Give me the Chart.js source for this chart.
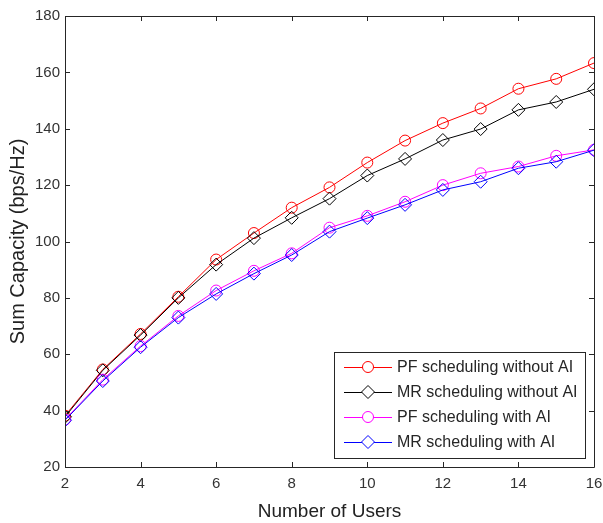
<!DOCTYPE html>
<html>
<head>
<meta charset="utf-8">
<script src="https://cdn.jsdelivr.net/npm/chart.js@4.4.0/dist/chart.umd.min.js"></script>
<style>
  html, body { margin: 0; padding: 0; background: #fff; }
  #wrap { width: 603px; height: 523px; }
</style>
</head>
<body>
<div id="wrap"><canvas id="capChart" width="603" height="523"></canvas></div>
<script>
// values
var users = [2, 3, 4, 5, 6, 7, 8, 9, 10, 11, 12, 13, 14, 15, 16];
var pfNoAI = [38.2, 54.6, 67.2, 80.4, 93.6, 103.0, 112.0, 119.2, 128.0, 135.8, 142.0, 147.2, 154.2, 157.7, 163.3];
var mrNoAI = [37.8, 54.3, 66.8, 80.0, 91.8, 101.2, 108.4, 115.2, 123.4, 129.3, 136.0, 139.9, 146.7, 149.5, 154.0];
var pfAI = [36.8, 51.0, 62.9, 73.6, 82.6, 89.6, 95.8, 104.9, 109.1, 114.1, 120.0, 124.2, 126.6, 130.4, 132.5];
var mrAI = [36.6, 50.5, 62.5, 73.0, 81.4, 88.6, 95.2, 103.5, 108.3, 113.0, 118.3, 121.2, 126.0, 128.3, 132.4];
var seriesNames = ["PF scheduling without AI", "MR scheduling without AI", "PF scheduling with AI", "MR scheduling with AI"];
var xTicks = [2, 4, 6, 8, 10, 12, 14, 16];
var yTicks = [20, 40, 60, 80, 100, 120, 140, 160, 180];

function pts(vals) {
    return users.map(function (u, i) { return { x: u, y: vals[i] }; });
}

function makeSet(label, vals, color, style, order) {
    return {
        label: label,
        data: pts(vals),
        borderColor: color,
        backgroundColor: 'rgba(0,0,0,0)',
        borderWidth: 1,
        pointStyle: style,
        pointRadius: style === 'circle' ? 5.5 : 6.5,
        pointBorderWidth: 1,
        pointBorderColor: color,
        pointBackgroundColor: 'rgba(0,0,0,0)',
        tension: 0,
        order: order
    };
}

// MATLAB-like box with inward ticks on all four sides
var framePlugin = {
    id: 'frame',
    afterDatasetsDraw: function (chart) {
        var ctx = chart.ctx, a = chart.chartArea;
        var xs = chart.scales.x, ys = chart.scales.y;
        ctx.save();
        ctx.strokeStyle = '#262626';
        ctx.lineWidth = 1;
        ctx.beginPath();
        ctx.rect(Math.round(a.left) + 0.5, Math.round(a.top) + 0.5,
                 Math.round(a.right - a.left), Math.round(a.bottom - a.top));
        ctx.stroke();
        var tl = 5;
        ctx.beginPath();
        xTicks.forEach(function (t) {
            var px = Math.round(xs.getPixelForValue(t)) + 0.5;
            ctx.moveTo(px, a.bottom); ctx.lineTo(px, a.bottom - tl);
            ctx.moveTo(px, a.top); ctx.lineTo(px, a.top + tl);
        });
        yTicks.forEach(function (t) {
            var py = Math.round(ys.getPixelForValue(t)) + 0.5;
            ctx.moveTo(a.left, py); ctx.lineTo(a.left + tl, py);
            ctx.moveTo(a.right, py); ctx.lineTo(a.right - tl, py);
        });
        ctx.stroke();
        ctx.restore();
    }
};

// legend box drawn inside the plot, lower right
var boxLegend = {
    id: 'boxLegend',
    afterDraw: function (chart) {
        var ctx = chart.ctx, a = chart.chartArea;
        var bx = a.right - 260, by = a.bottom - 115, bw = 251, bh = 106;
        ctx.save();
        ctx.fillStyle = '#fff';
        ctx.fillRect(bx, by, bw, bh);
        ctx.strokeStyle = '#262626';
        ctx.lineWidth = 1;
        ctx.strokeRect(Math.round(bx) + 0.5, Math.round(by) + 0.5, bw, bh);
        ctx.font = '16px "Liberation Sans", Arial, sans-serif';
        ctx.textBaseline = 'middle';
        chart.data.datasets.forEach(function (ds, i) {
            var y = by + 15 + i * 25;
            var x0 = bx + 10, x1 = bx + 58, xm = (x0 + x1) / 2;
            ctx.strokeStyle = ds.borderColor;
            ctx.beginPath();
            ctx.moveTo(x0, y + 0.5); ctx.lineTo(x1, y + 0.5);
            ctx.stroke();
            ctx.fillStyle = '#fff';
            Chart.helpers.drawPoint(ctx, {
                pointStyle: ds.pointStyle,
                radius: ds.pointRadius,
                borderWidth: 1,
                rotation: 0
            }, xm, y);
            ctx.fillStyle = '#262626';
            ctx.fillText(ds.label, x1 + 5, y + 1);
        });
        ctx.restore();
    }
};

var ctxC = document.getElementById('capChart').getContext('2d');

var capChart = new Chart(ctxC, {
    type: 'line',
    data: {
        datasets: [
            makeSet(seriesNames[0], pfNoAI, '#ff0000', 'circle', 4),
            makeSet(seriesNames[1], mrNoAI, '#000000', 'rectRot', 3),
            makeSet(seriesNames[2], pfAI, '#ff00ff', 'circle', 2),
            makeSet(seriesNames[3], mrAI, '#0000ff', 'rectRot', 1)
        ]
    },
    options: {
        responsive: false,
        animation: false,
        layout: { padding: { top: 16, right: 9, left: 0, bottom: 0 } },
        plugins: {
            legend: { display: false },
            tooltip: { enabled: false }
        },
        scales: {
            x: {
                type: 'linear',
                min: 2,
                max: 16,
                afterBuildTicks: function (s) { s.ticks = xTicks.map(function (v) { return { value: v }; }); },
                afterFit: function (s) { s.height = 56; s.paddingLeft = 0; s.paddingRight = 0; },
                grid: { display: false, drawTicks: false },
                border: { display: false },
                ticks: {
                    color: '#333',
                    padding: 8,
                    maxRotation: 0,
                    font: { family: '"Liberation Sans", Arial, sans-serif', size: 15 }
                },
                title: {
                    display: true,
                    text: 'Number of Users',
                    color: '#222',
                    padding: { top: 6, bottom: 0 },
                    font: { family: '"Liberation Sans", Arial, sans-serif', size: 19 }
                }
            },
            y: {
                type: 'linear',
                min: 20,
                max: 180,
                afterBuildTicks: function (s) { s.ticks = yTicks.map(function (v) { return { value: v }; }); },
                afterFit: function (s) { s.width = 65; s.paddingTop = 0; s.paddingBottom = 0; },
                grid: { display: false, drawTicks: false },
                border: { display: false },
                ticks: {
                    color: '#333',
                    padding: 5,
                    font: { family: '"Liberation Sans", Arial, sans-serif', size: 15 }
                },
                title: {
                    display: true,
                    text: 'Sum Capacity (bps/Hz)',
                    color: '#222',
                    padding: { top: 6, bottom: 0 },
                    font: { family: '"Liberation Sans", Arial, sans-serif', size: 20 }
                }
            }
        }
    },
    plugins: [framePlugin, boxLegend]
});
</script>
</body>
</html>
